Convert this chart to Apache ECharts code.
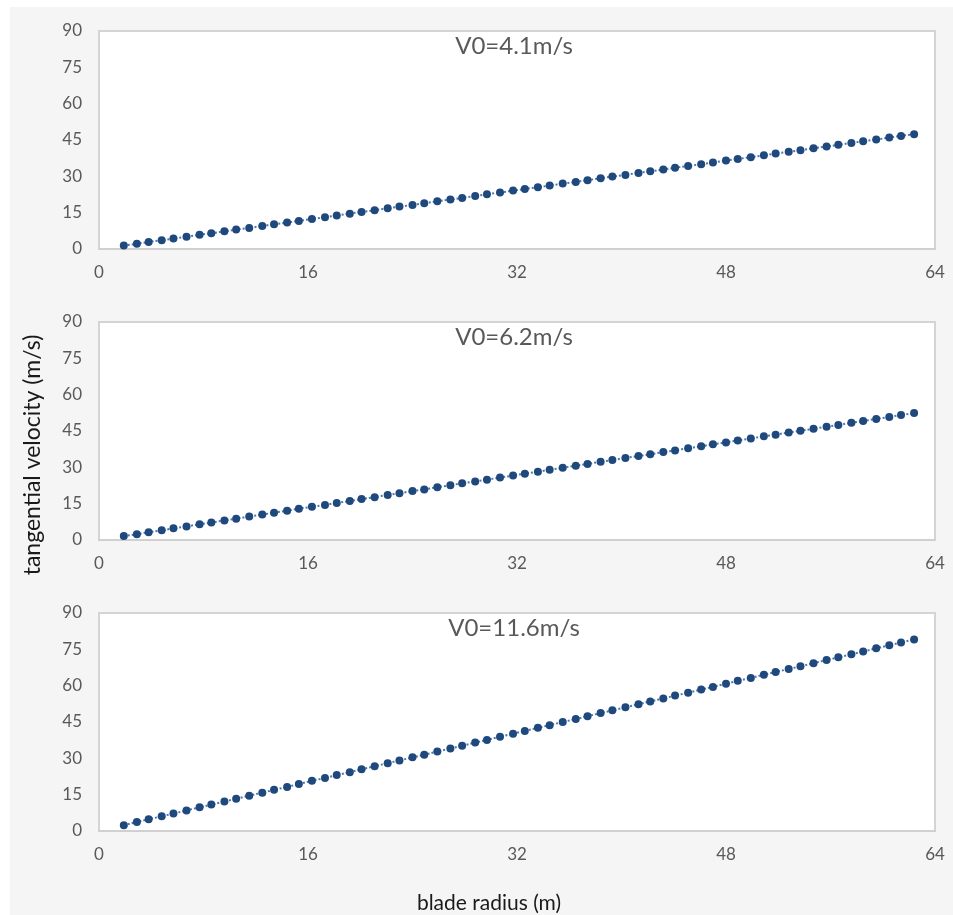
<!DOCTYPE html>
<html>
<head>
<meta charset="utf-8">
<script src="https://cdn.jsdelivr.net/npm/echarts@6/dist/echarts.min.js"></script>
<style>
html,body{margin:0;padding:0;background:#ffffff;}
#bg{position:absolute;left:10px;top:7px;right:0;bottom:0;background:#f5f5f5;}
#main{position:absolute;left:0;top:0;width:953px;height:915px;}
</style>
</head>
<body>
<div id="bg"></div>
<div id="main"></div>
<script>
const radius = [1.9, 2.9, 3.8, 4.8, 5.7, 6.7, 7.7, 8.6, 9.6, 10.5, 11.5, 12.5, 13.4, 14.4, 15.3, 16.3, 17.3, 18.2, 19.2, 20.1, 21.1, 22.1, 23.0, 24.0, 24.9, 25.9, 26.9, 27.8, 28.8, 29.7, 30.7, 31.7, 32.6, 33.6, 34.5, 35.5, 36.5, 37.4, 38.4, 39.3, 40.3, 41.3, 42.2, 43.2, 44.1, 45.1, 46.1, 47.0, 48.0, 48.9, 49.9, 50.9, 51.8, 52.8, 53.7, 54.7, 55.7, 56.6, 57.6, 58.5, 59.5, 60.5, 61.4, 62.4];
const vtV41 = [1.4, 2.2, 2.9, 3.6, 4.3, 5.1, 5.9, 6.5, 7.3, 8.0, 8.7, 9.5, 10.2, 10.9, 11.6, 12.4, 13.1, 13.8, 14.6, 15.3, 16.0, 16.8, 17.5, 18.2, 18.9, 19.7, 20.4, 21.1, 21.9, 22.6, 23.3, 24.1, 24.8, 25.5, 26.2, 27.0, 27.7, 28.4, 29.2, 29.9, 30.6, 31.4, 32.1, 32.8, 33.5, 34.3, 35.0, 35.7, 36.5, 37.2, 37.9, 38.7, 39.4, 40.1, 40.8, 41.6, 42.3, 43.0, 43.8, 44.5, 45.2, 46.0, 46.7, 47.4];
const vtV62 = [1.6, 2.4, 3.2, 4.0, 4.8, 5.6, 6.5, 7.2, 8.1, 8.8, 9.7, 10.5, 11.3, 12.1, 12.9, 13.7, 14.5, 15.3, 16.1, 16.9, 17.7, 18.6, 19.3, 20.2, 20.9, 21.8, 22.6, 23.4, 24.2, 24.9, 25.8, 26.6, 27.4, 28.2, 29.0, 29.8, 30.7, 31.4, 32.3, 33.0, 33.9, 34.7, 35.4, 36.3, 37.0, 37.9, 38.7, 39.5, 40.3, 41.1, 41.9, 42.8, 43.5, 44.4, 45.1, 45.9, 46.8, 47.5, 48.4, 49.1, 50.0, 50.8, 51.6, 52.4];
const vtV116 = [2.4, 3.7, 4.8, 6.1, 7.2, 8.5, 9.8, 10.9, 12.2, 13.3, 14.6, 15.8, 17.0, 18.2, 19.4, 20.7, 21.9, 23.1, 24.3, 25.5, 26.7, 28.0, 29.1, 30.4, 31.5, 32.8, 34.1, 35.2, 36.5, 37.6, 38.9, 40.2, 41.3, 42.6, 43.7, 45.0, 46.2, 47.4, 48.7, 49.8, 51.1, 52.3, 53.5, 54.7, 55.9, 57.1, 58.4, 59.5, 60.8, 62.0, 63.2, 64.5, 65.6, 66.9, 68.0, 69.3, 70.6, 71.7, 73.0, 74.1, 75.4, 76.7, 77.8, 79.1];
const panelTitles = ['V0=4.1m/s', 'V0=6.2m/s', 'V0=11.6m/s'];
const panelSeries = [vtV41, vtV62, vtV116];
const xAxisName = 'blade radius (m)';
const yAxisName = 'tangential velocity (m/s)';

const FONT = 'Lato, "Open Sans", sans-serif';
const tops = [31, 322, 613];
const chart = echarts.init(document.getElementById('main'), null, {renderer: 'canvas'});

const grids = [], xAxes = [], yAxes = [], series = [], titles = [];
panelSeries.forEach((vals, i) => {
  grids.push({left: 99, width: 836, top: tops[i], height: 218, show: true,
    backgroundColor: '#ffffff', borderColor: '#d4d4d4', borderWidth: 2});
  xAxes.push({type: 'value', gridIndex: i, min: 0, max: 64, interval: 16,
    axisLine: {show: true, lineStyle: {color: '#d0d0d0', width: 2}},
    axisTick: {show: false}, splitLine: {show: false},
    axisLabel: {color: '#595959', fontSize: 17, fontFamily: FONT, margin: 15}});
  yAxes.push({type: 'value', gridIndex: i, min: 0, max: 90, interval: 15,
    axisLine: {show: false}, axisTick: {show: false}, splitLine: {show: false},
    axisLabel: {color: '#595959', fontSize: 17, fontFamily: FONT, margin: 17}});
  series.push({type: 'line', xAxisIndex: i, yAxisIndex: i,
    data: radius.map((r, k) => [r, vals[k]]),
    symbol: 'circle', symbolSize: 8,
    itemStyle: {color: '#1f497d'},
    lineStyle: {color: '#4a78b0', width: 2, type: 'dotted'},
    animation: false});
  titles.push({text: panelTitles[i], left: 509, top: tops[i] - 2, textAlign: 'center',
    textStyle: {color: '#595959', fontSize: 24, fontWeight: 'normal', fontFamily: FONT}});
});

chart.setOption({
  backgroundColor: 'transparent',
  animation: false,
  title: titles,
  grid: grids,
  xAxis: xAxes,
  yAxis: yAxes,
  series: series,
  graphic: [
    {type: 'text', x: 489, y: 903, style: {text: xAxisName, fill: '#1a1a1a', fontSize: 21, fontFamily: FONT, textAlign: 'center', textVerticalAlign: 'middle'}},
    {type: 'text', x: 33, y: 455, rotation: Math.PI / 2, style: {text: yAxisName, fill: '#1a1a1a', fontSize: 23, fontFamily: FONT, textAlign: 'center', textVerticalAlign: 'middle'}}
  ]
});
</script>
</body>
</html>
